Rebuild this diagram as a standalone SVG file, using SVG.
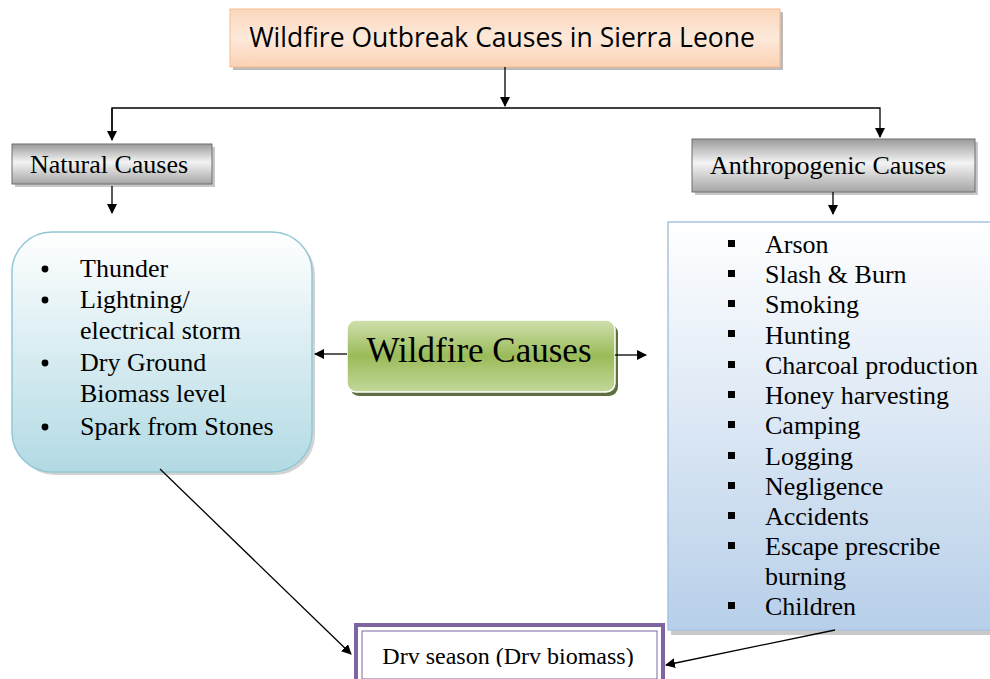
<svg xmlns="http://www.w3.org/2000/svg" width="990" height="679" viewBox="0 0 990 679">
<defs>
<linearGradient id="gOrange" x1="0" y1="0" x2="0" y2="1">
<stop offset="0" stop-color="#fbd7bd"/><stop offset="0.5" stop-color="#fde9da"/><stop offset="1" stop-color="#fbd2b4"/>
</linearGradient>
<linearGradient id="gGray" x1="0" y1="0" x2="0" y2="1">
<stop offset="0" stop-color="#9a9a9a"/><stop offset="0.45" stop-color="#f4f4f4"/><stop offset="1" stop-color="#a5a5a5"/>
</linearGradient>
<linearGradient id="gBlue" x1="0" y1="0" x2="0" y2="1">
<stop offset="0" stop-color="#ffffff"/><stop offset="1" stop-color="#b2dae4"/>
</linearGradient>
<linearGradient id="gBlue2" x1="0" y1="0" x2="0" y2="1">
<stop offset="0" stop-color="#ffffff"/><stop offset="1" stop-color="#b7cfe9"/>
</linearGradient>
<linearGradient id="gGreen" x1="0" y1="0" x2="0" y2="1">
<stop offset="0" stop-color="#cfe0ad"/><stop offset="0.5" stop-color="#9bbb59"/><stop offset="1" stop-color="#c3d89b"/>
</linearGradient>
<clipPath id="dryClip"><rect x="362" y="631" width="295" height="36"/></clipPath>
<marker id="ah" viewBox="0 0 10 10" refX="9" refY="5" markerWidth="10" markerHeight="10" markerUnits="userSpaceOnUse" orient="auto">
<path d="M0,0 L10,5 L0,10 z" fill="#000"/>
</marker>
<style>
.ser{font-family:"Liberation Serif","Times New Roman",serif;fill:#000}
.li{font-size:26px}
.con{stroke:#000;stroke-width:1.3;fill:none}
</style>
</defs>

<g id="title">
<rect x="233" y="12" width="550" height="58" fill="#bbbbbb"/>
<rect x="230" y="9" width="550" height="58" fill="url(#gOrange)" stroke="#f5b98f" stroke-width="1"/>
<text x="502" y="47" text-anchor="middle" font-family="'Open Sans','Liberation Sans',sans-serif" font-size="26.5" fill="#000">Wildfire Outbreak Causes in Sierra Leone</text>
</g>

<g id="natural-causes">
<rect x="15" y="147" width="200" height="40" fill="#c8c8c8"/>
<rect x="12" y="144" width="200" height="40" fill="url(#gGray)" stroke="#6f6f6f" stroke-width="1"/>
<text x="109" y="173" text-anchor="middle" class="ser" font-size="26">Natural Causes</text>
</g>

<g id="anthropogenic-causes">
<rect x="695" y="142" width="283" height="53" fill="#c8c8c8"/>
<rect x="692" y="139" width="283" height="53" fill="url(#gGray)" stroke="#6f6f6f" stroke-width="1"/>
<text x="828" y="174" text-anchor="middle" class="ser" font-size="26">Anthropogenic Causes</text>
</g>

<g id="natural-list">
<rect x="15" y="235" width="300" height="240" rx="40" fill="#d3d3d3"/>
<rect x="12" y="232" width="300" height="240" rx="40" fill="url(#gBlue)" stroke="#93c7d6" stroke-width="1.5"/>
<g class="ser li">
<circle cx="45" cy="269" r="3.4"/><text x="80" y="277">Thunder</text>
<circle cx="45" cy="300" r="3.4"/><text x="80" y="308">Lightning/</text>
<text x="80" y="339">electrical storm</text>
<circle cx="45" cy="363" r="3.4"/><text x="80" y="371">Dry Ground</text>
<text x="80" y="402">Biomass level</text>
<circle cx="45" cy="427" r="3.4"/><text x="80" y="435">Spark from Stones</text>
</g>
</g>

<g id="wildfire-causes">
<rect x="350" y="324" width="268" height="72" rx="9" fill="#5f6f40"/>
<rect x="347" y="320" width="268" height="72" rx="9" fill="url(#gGreen)" stroke="#ffffff" stroke-width="1.5"/>
<text x="479" y="362" text-anchor="middle" class="ser" font-size="35">Wildfire Causes</text>
</g>

<g id="anthropogenic-list">
<rect x="671" y="225" width="330" height="410" fill="#c9c9c9"/>
<rect x="668" y="222" width="330" height="408" fill="url(#gBlue2)" stroke="#a8c3e0" stroke-width="1.5"/>
<g class="ser li">
<rect x="728" y="240" width="7" height="7"/><text x="765" y="253">Arson</text>
<rect x="728" y="270" width="7" height="7"/><text x="765" y="283">Slash &amp; Burn</text>
<rect x="728" y="300" width="7" height="7"/><text x="765" y="313">Smoking</text>
<rect x="728" y="330" width="7" height="7"/><text x="765" y="344">Hunting</text>
<rect x="728" y="361" width="7" height="7"/><text x="765" y="374">Charcoal production</text>
<rect x="728" y="391" width="7" height="7"/><text x="765" y="404">Honey harvesting</text>
<rect x="728" y="421" width="7" height="7"/><text x="765" y="434">Camping</text>
<rect x="728" y="452" width="7" height="7"/><text x="765" y="465">Logging</text>
<rect x="728" y="482" width="7" height="7"/><text x="765" y="495">Negligence</text>
<rect x="728" y="512" width="7" height="7"/><text x="765" y="525">Accidents</text>
<rect x="728" y="542" width="7" height="7"/><text x="765" y="555">Escape prescribe</text>
<text x="765" y="585">burning</text>
<rect x="728" y="602" width="7" height="7"/><text x="765" y="615">Children</text>
</g>
</g>

<g id="dry-season">
<rect x="356" y="625" width="307" height="60" fill="#ffffff" stroke="#8064a2" stroke-width="4"/>
<rect x="362" y="631" width="295" height="48" fill="none" stroke="#8064a2" stroke-width="1"/>
<text x="508" y="664" text-anchor="middle" class="ser" font-size="24" clip-path="url(#dryClip)">Drv season (Drv biomass)</text>
</g>

<g id="connectors">
<line class="con" x1="505" y1="67" x2="505" y2="106" marker-end="url(#ah)"/>
<polyline class="con" points="112,138 112,108 880,108 880,137" marker-end="url(#ah)"/>
<line class="con" x1="112" y1="108" x2="112" y2="140" marker-end="url(#ah)"/>
<line class="con" x1="112" y1="186" x2="112" y2="213" marker-end="url(#ah)"/>
<line class="con" x1="833" y1="192" x2="833" y2="214" marker-end="url(#ah)"/>
<line class="con" x1="347" y1="354" x2="315" y2="354" marker-end="url(#ah)"/>
<line class="con" x1="615" y1="355" x2="646" y2="355" marker-end="url(#ah)"/>
<line class="con" x1="160" y1="469" x2="351" y2="654" marker-end="url(#ah)"/>
<line class="con" x1="835" y1="630" x2="666" y2="665" marker-end="url(#ah)"/>
</g>
</svg>
